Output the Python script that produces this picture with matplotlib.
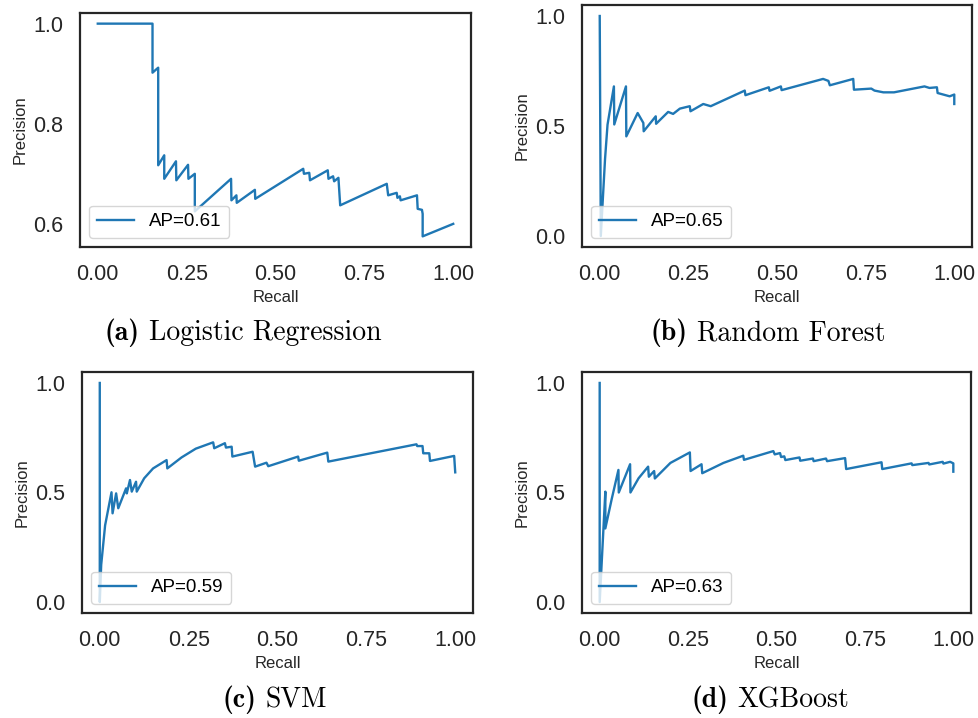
import matplotlib
matplotlib.use('Agg')
import matplotlib.pyplot as plt
from matplotlib.ticker import MultipleLocator

plt.rcParams['font.family'] = ['Liberation Sans', 'DejaVu Sans']

# precision-recall curves
lr_recall = [0.0, 0.154, 0.154, 0.170, 0.170, 0.187, 0.187, 0.220, 0.221, 0.254, 0.255, 0.273,
             0.273, 0.375, 0.376, 0.390, 0.391, 0.442, 0.443, 0.578, 0.580, 0.595, 0.597, 0.647,
             0.649, 0.662, 0.665, 0.677, 0.682, 0.813, 0.817, 0.841, 0.843, 0.850, 0.852, 0.898,
             0.900, 0.912, 0.914, 0.914, 1.0]
lr_precision = [1.0, 1.0, 0.902, 0.912, 0.717, 0.737, 0.690, 0.725, 0.687, 0.718, 0.690, 0.700,
                0.625, 0.690, 0.647, 0.657, 0.642, 0.668, 0.650, 0.710, 0.700, 0.702, 0.687, 0.707,
                0.690, 0.695, 0.685, 0.692, 0.637, 0.680, 0.657, 0.662, 0.652, 0.655, 0.647, 0.657,
                0.630, 0.628, 0.620, 0.575, 0.600]

rf_recall = [0.0, 0.003, 0.015, 0.022, 0.040, 0.041, 0.074, 0.075, 0.107, 0.123, 0.124, 0.158,
             0.159, 0.193, 0.207, 0.226, 0.254, 0.256, 0.292, 0.313, 0.409, 0.411, 0.477, 0.479,
             0.511, 0.513, 0.630, 0.645, 0.649, 0.715, 0.717, 0.766, 0.775, 0.800, 0.830, 0.916,
             0.930, 0.951, 0.953, 0.987, 1.0, 1.0]
rf_precision = [1.0, 0.0, 0.350, 0.506, 0.680, 0.507, 0.680, 0.453, 0.559, 0.514, 0.476, 0.544,
                0.510, 0.564, 0.555, 0.579, 0.590, 0.567, 0.600, 0.590, 0.661, 0.640, 0.676, 0.660,
                0.680, 0.663, 0.714, 0.705, 0.685, 0.714, 0.665, 0.670, 0.661, 0.653, 0.653, 0.680,
                0.673, 0.676, 0.650, 0.635, 0.643, 0.600]

svm_recall = [0.0, 0.0, 0.004, 0.015, 0.033, 0.036, 0.046, 0.052, 0.074, 0.076, 0.085, 0.090,
              0.102, 0.104, 0.125, 0.150, 0.188, 0.190, 0.230, 0.270, 0.319, 0.322, 0.352, 0.355,
              0.371, 0.373, 0.430, 0.437, 0.469, 0.474, 0.558, 0.560, 0.640, 0.643, 0.891, 0.893,
              0.908, 0.910, 0.927, 0.929, 0.997, 1.0]
svm_precision = [1.0, 0.0, 0.170, 0.350, 0.501, 0.405, 0.496, 0.428, 0.519, 0.496, 0.557, 0.504,
                 0.549, 0.504, 0.565, 0.610, 0.648, 0.610, 0.660, 0.700, 0.729, 0.702, 0.725, 0.705,
                 0.709, 0.664, 0.686, 0.618, 0.636, 0.620, 0.664, 0.645, 0.682, 0.641, 0.720, 0.712,
                 0.712, 0.679, 0.679, 0.644, 0.667, 0.592]

xgb_recall = [0.0, 0.0, 0.016, 0.016, 0.034, 0.053, 0.054, 0.086, 0.087, 0.110, 0.137, 0.139,
              0.154, 0.156, 0.200, 0.255, 0.257, 0.288, 0.290, 0.350, 0.406, 0.408, 0.491, 0.495,
              0.510, 0.513, 0.522, 0.525, 0.565, 0.567, 0.603, 0.605, 0.640, 0.643, 0.694, 0.697,
              0.797, 0.799, 0.882, 0.884, 0.930, 0.932, 0.970, 0.972, 0.991, 1.0, 1.0]
xgb_precision = [1.0, 0.0, 0.504, 0.336, 0.470, 0.603, 0.500, 0.629, 0.500, 0.565, 0.618, 0.572,
                 0.598, 0.564, 0.635, 0.683, 0.598, 0.629, 0.588, 0.635, 0.668, 0.649, 0.689, 0.674,
                 0.680, 0.662, 0.665, 0.648, 0.660, 0.645, 0.655, 0.643, 0.655, 0.643, 0.657, 0.607,
                 0.638, 0.607, 0.633, 0.625, 0.635, 0.628, 0.640, 0.632, 0.640, 0.633, 0.595]

ap_labels = ['AP=0.61', 'AP=0.65', 'AP=0.59', 'AP=0.63']
cap_tags = ['(a)', '(b)', '(c)', '(d)']
cap_names = ['Logistic Regression', 'Random Forest', 'SVM', 'XGBoost']

W, H = 979, 718
fig = plt.figure(figsize=(W / 100, H / 100), dpi=100)


def add_ax(left, top, right, bottom):
    return fig.add_axes([left / W, 1 - bottom / H, (right - left) / W, (bottom - top) / H])


boxes = [(80, 13, 471, 247), (582, 5, 972, 247), (82, 372, 473, 613), (582, 372, 971, 613)]
curves = [(lr_recall, lr_precision), (rf_recall, rf_precision),
          (svm_recall, svm_precision), (xgb_recall, xgb_precision)]
ysteps = [0.2, 0.5, 0.5, 0.5]

for box, (rec, prec), lab, ystep in zip(boxes, curves, ap_labels, ysteps):
    ax = add_ax(*box)
    ax.plot(rec, prec, color='#1f77b4', lw=1.7, label=lab)
    ax.xaxis.set_major_locator(MultipleLocator(0.25))
    ax.yaxis.set_major_locator(MultipleLocator(ystep))
    ax.tick_params(length=0, pad=12, labelsize=15.5, colors='#262626')
    ax.set_xlabel('Recall', fontsize=12, color='#262626')
    ax.set_ylabel('Precision', fontsize=12, color='#262626')
    for s in ax.spines.values():
        s.set_color('#262626')
        s.set_linewidth(1.6)
    ax.legend(loc='lower left', fontsize=13.5, handlelength=2.0)

# captions: bold tag + roman name, centred as a pair
cap_fs = 20
cap_pos = [(243, 333), (768, 333), (275, 700), (770, 700)]
renderer = fig.canvas.get_renderer()
gap = cap_fs * 0.33 * 100 / 72
for (cx, cy), tag, name in zip(cap_pos, cap_tags, cap_names):
    t1 = fig.text(0, 0, tag, family='cmb10', fontsize=cap_fs, va='center', ha='left')
    t2 = fig.text(0, 0, name, family='cmr10', fontsize=cap_fs, va='center', ha='left')
    w1 = t1.get_window_extent(renderer).width
    w2 = t2.get_window_extent(renderer).width
    x0 = cx - (w1 + gap + w2) / 2
    t1.set_position((x0 / W, 1 - cy / H))
    t2.set_position(((x0 + w1 + gap) / W, 1 - cy / H))

fig.savefig('out.png', dpi=100)
